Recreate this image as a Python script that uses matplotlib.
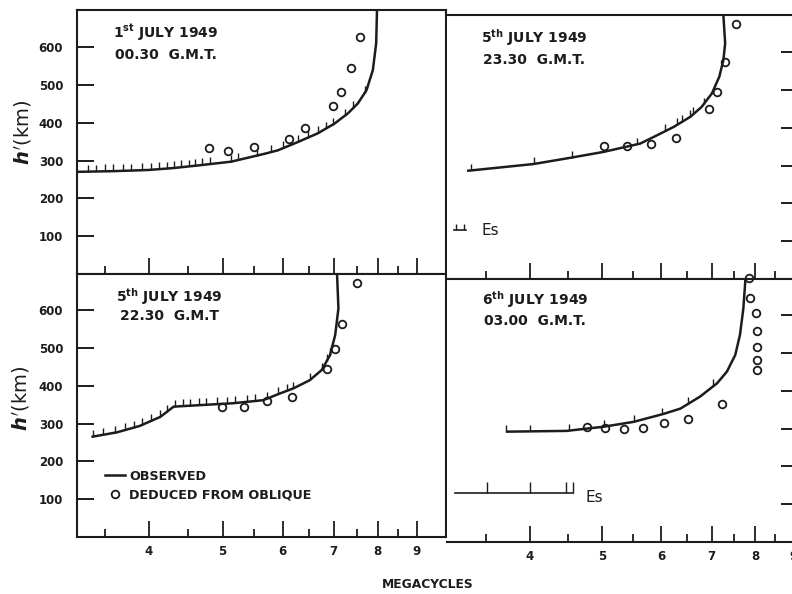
import numpy as np
import matplotlib.pyplot as plt
from matplotlib.lines import Line2D
from matplotlib.ticker import NullFormatter

plt.rcParams['font.family'] = ['DejaVu Sans']
plt.rcParams['font.weight'] = 'bold'

INK = "#1c1c1c"

# frequency axis (megacycles)
freq_major = [4, 5, 6, 7, 8, 9]
freq_minor = [3.5, 4.5, 5.5, 6.5, 7.5, 8.5]
height_ticks = [100, 200, 300, 400, 500, 600]

# 1st July 1949 00.30 GMT
tl_obs_f = [3.20, 3.60, 3.99, 4.30, 4.64, 5.13, 5.68, 5.91, 6.28, 6.67, 7.02, 7.31, 7.53, 7.73, 7.88, 7.96, 7.98]
tl_obs_h = [270, 272, 275, 280, 287, 297, 318, 327, 349, 372, 398, 425, 451, 486, 539, 610, 698]
tl_hatch_f = [3.32, 3.41, 3.50, 3.59, 3.70, 3.79, 3.91, 4.02, 4.12, 4.22, 4.31, 4.41, 4.51, 4.60,
              4.70, 4.81, 5.13, 5.24, 5.54, 5.79, 6.00, 6.28, 6.47, 6.67, 6.84, 6.98, 7.24, 7.42, 7.69]
tl_obl_f = [4.79, 5.08, 5.50, 6.11, 6.41, 6.98, 7.16, 7.38, 7.57]
tl_obl_h = [332, 326, 336, 358, 385, 444, 482, 544, 626]

# 5th July 1949 23.30 GMT
tr_obs_f = [3.30, 4.05, 4.55, 5.02, 5.62, 5.92, 6.23, 6.56, 6.79, 7.01, 7.17, 7.26, 7.30, 7.26]
tr_obs_h = [286, 304, 321, 336, 358, 380, 402, 429, 455, 491, 535, 579, 623, 698]
tr_hatch_f = [3.34, 4.05, 4.55, 5.56, 6.07, 6.29, 6.39, 6.56, 6.62, 6.83]
tr_obl_f = [5.03, 5.40, 5.81, 6.28, 6.94, 7.12, 7.30, 7.55]
tr_obl_h = [352, 351, 358, 372, 450, 494, 574, 674]
tr_es_f = [3.17, 3.29]
tr_es_tick_f = [3.19, 3.27]
tr_es_h = 129

# 5th July 1949 22.30 GMT
bl_obs_f = [3.36, 3.63, 3.89, 4.14, 4.31, 4.67, 5.16, 5.65, 5.95, 6.19, 6.51, 6.75, 6.92, 7.03, 7.10, 7.07]
bl_obs_h = [265, 277, 294, 318, 345, 349, 354, 362, 380, 393, 415, 442, 481, 534, 605, 696]
bl_hatch_f = [3.38, 3.48, 3.61, 3.72, 3.82, 3.91, 4.03, 4.14, 4.22, 4.33, 4.44, 4.53, 4.65, 4.76,
              4.91, 5.06, 5.19, 5.38, 5.51, 5.71, 5.92, 6.07, 6.19, 6.51, 6.75, 6.85, 6.92]
bl_obl_f = [4.99, 5.33, 5.71, 6.17, 6.85, 7.03, 7.18, 7.50]
bl_obl_h = [345, 345, 361, 371, 444, 497, 565, 671]

# 6th July 1949 03.00 GMT
br_obs_f = [3.72, 4.48, 5.02, 5.51, 6.04, 6.36, 6.76, 7.12, 7.34, 7.53, 7.64, 7.72, 7.77]
br_obs_h = [292, 294, 305, 318, 339, 353, 385, 420, 451, 495, 548, 618, 696]
br_hatch_f = [3.72, 4.01, 4.51, 5.03, 5.51, 6.01, 6.52, 7.04]
br_obl_f = [4.77, 5.05, 5.35, 5.67, 6.04, 6.52, 7.23, 8.05, 8.06, 8.05, 8.05, 8.03, 7.88, 7.86]
br_obl_h = [305, 301, 299, 303, 314, 325, 364, 455, 481, 515, 558, 607, 647, 698]
br_es_f = [3.18, 4.57]
br_es_tick_f = [3.51, 4.00, 4.47, 4.57]
br_es_h = 130

W, H = 792, 594
fig = plt.figure(figsize=(W / 100, H / 100), dpi=100)


def px_axes(x0, y0, w, h):
    return fig.add_axes([x0 / W, 1 - (y0 + h) / H, w / W, h / H])


def setup(ax, xlim, ylim_top, left, bottom_labels):
    ax.set_xscale('log')
    ax.set_xlim(*xlim)
    ax.set_ylim(0, ylim_top)
    ax.set_xticks(freq_major, labels=[str(v) for v in freq_major])
    ax.set_xticks(freq_minor, minor=True)
    ax.xaxis.set_minor_formatter(NullFormatter())
    ax.tick_params(axis='x', which='major', direction='in', length=11.5, width=1.3,
                   color=INK, labelsize=8.5, pad=6, labelbottom=bottom_labels, labelcolor=INK)
    ax.tick_params(axis='x', which='minor', direction='in', length=6, width=1.3, color=INK)
    ax.set_yticks(height_ticks, labels=[str(v) for v in height_ticks])
    if left:
        ax.tick_params(axis='y', direction='in', length=12, width=1.4, color=INK,
                       labelsize=8.5, pad=10, labelcolor=INK)
    else:
        ax.tick_params(axis='y', direction='in', length=14, width=1.4, color=INK,
                       left=False, right=True, labelleft=False)
        ax.spines['left'].set_visible(False)
    for s in ax.spines.values():
        s.set_linewidth(1.5)
        s.set_color(INK)


def hatch(ax, f_curve, h_curve, f_ticks, length=18):
    f_curve = np.asarray(f_curve)
    k = np.argmax(f_curve) + 1
    base = np.interp(np.log(f_ticks), np.log(f_curve[:k]), np.asarray(h_curve)[:k])
    ax.vlines(f_ticks, base, base + length, color=INK, lw=1.0)


def draw(ax, obs_f, obs_h, hatch_f, obl_f, obl_h):
    ax.plot(obs_f, obs_h, color=INK, lw=1.8, solid_capstyle='butt')
    hatch(ax, obs_f, obs_h, hatch_f)
    ax.plot(obl_f, obl_h, 'o', mfc='none', mec=INK, ms=5.5, mew=1.3, clip_on=False)


left_xlim = (3.216, 9.835)
right_xlim = (3.102, 9.19)

ax_tl = px_axes(77, 10, 369, 264)
setup(ax_tl, left_xlim, 698, True, False)
draw(ax_tl, tl_obs_f, tl_obs_h, tl_hatch_f, tl_obl_f, tl_obl_h)

ax_bl = px_axes(77, 274, 369, 263)
setup(ax_bl, left_xlim, 696, True, True)
draw(ax_bl, bl_obs_f, bl_obs_h, bl_hatch_f, bl_obl_f, bl_obl_h)

ax_tr = px_axes(447, 15, 353, 264)
setup(ax_tr, right_xlim, 698, False, False)
draw(ax_tr, tr_obs_f, tr_obs_h, tr_hatch_f, tr_obl_f, tr_obl_h)
ax_tr.plot(tr_es_f, [tr_es_h] * 2, color=INK, lw=1.2)
ax_tr.vlines(tr_es_tick_f, tr_es_h, tr_es_h + 16, color=INK, lw=1.0)
ax_tr.text(3.45, tr_es_h, "Es", fontsize=11, fontweight='normal', color=INK,
           va='center', ha='left')

ax_br = px_axes(447, 279, 353, 263)
setup(ax_br, right_xlim, 696, False, True)
draw(ax_br, br_obs_f, br_obs_h, br_hatch_f, br_obl_f, br_obl_h)
ax_br.plot(br_es_f, [br_es_h] * 2, color=INK, lw=1.2)
ax_br.vlines(br_es_tick_f, br_es_h, br_es_h + 28, color=INK, lw=1.0)
ax_br.text(4.75, br_es_h - 12, "Es", fontsize=11, fontweight='normal', color=INK,
           va='center', ha='left')

# panel captions
captions = [
    (166, 33, 55, r"1$^{\mathbf{st}}$ JULY 1949", "00.30  G.M.T."),
    (534, 38, 60, r"5$^{\mathbf{th}}$ JULY 1949", "23.30  G.M.T."),
    (169, 297, 316, r"5$^{\mathbf{th}}$ JULY 1949", "22.30  G.M.T"),
    (535, 300, 321, r"6$^{\mathbf{th}}$ JULY 1949", "03.00  G.M.T."),
]
for cx, y1, y2, l1, l2 in captions:
    fig.text(cx / W, 1 - y1 / H, l1, fontsize=10, color=INK, ha='center', va='center')
    fig.text(cx / W, 1 - y2 / H, l2, fontsize=10, color=INK, ha='center', va='center')

handles = [Line2D([], [], color=INK, lw=1.8),
           Line2D([], [], marker='o', ls='none', mfc='none', mec=INK, ms=5.5, mew=1.3)]
ax_bl.legend(handles, ["OBSERVED", "DEDUCED FROM OBLIQUE"], loc='upper left',
             bbox_to_anchor=(0.075, 0.255), frameon=False, fontsize=9.2,
             handlelength=1.6, handletextpad=0.3, labelspacing=0.4, borderaxespad=0,
             borderpad=0, labelcolor=INK)

fig.text(23 / W, 1 - 132 / H, r"$h'$(km)", rotation=90, fontsize=14, fontweight='normal',
         color=INK, ha='center', va='center')
fig.text(21 / W, 1 - 398 / H, r"$h'$(km)", rotation=90, fontsize=14, fontweight='normal',
         color=INK, ha='center', va='center')
fig.text(428 / W, 1 - 585 / H, "MEGACYCLES", fontsize=8.8, color=INK,
         ha='center', va='center')

fig.savefig("out.png", dpi=100)
